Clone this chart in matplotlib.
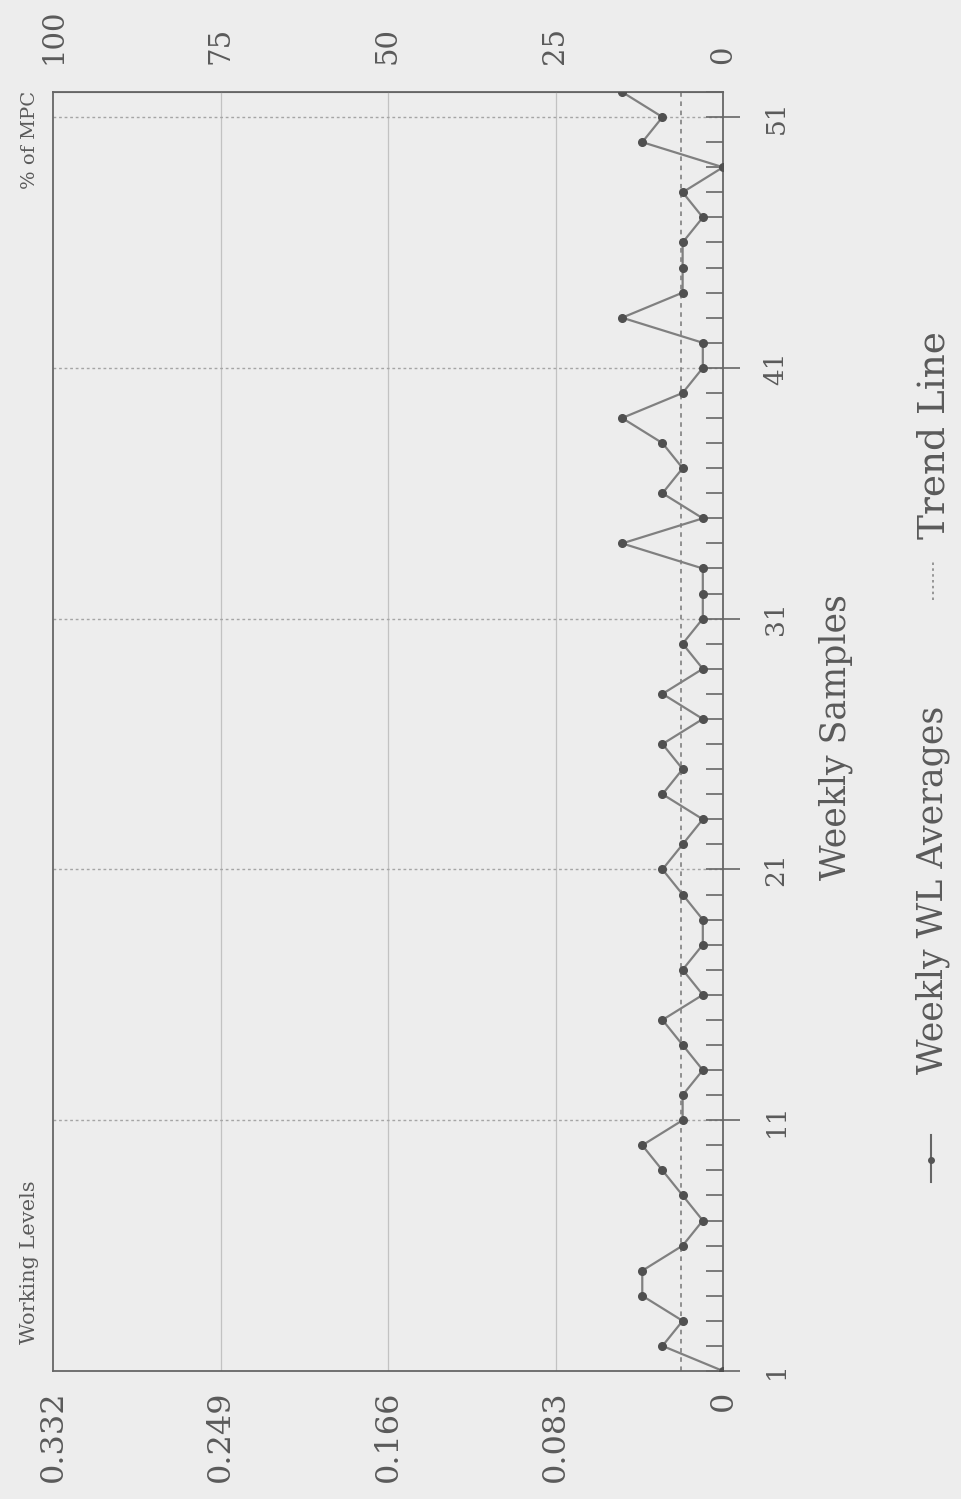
import matplotlib
matplotlib.use("Agg")
import matplotlib.pyplot as plt
from matplotlib.lines import Line2D
from matplotlib.ticker import MultipleLocator

# ---- data ----
weeks = list(range(1, 53))
wl_averages = [0.00, 0.03, 0.02, 0.04, 0.04, 0.02, 0.01, 0.02, 0.03, 0.04,
               0.02, 0.02, 0.01, 0.02, 0.03, 0.01, 0.02, 0.01, 0.01, 0.02,
               0.03, 0.02, 0.01, 0.03, 0.02, 0.03, 0.01, 0.03, 0.01, 0.02,
               0.01, 0.01, 0.01, 0.05, 0.01, 0.03, 0.02, 0.03, 0.05, 0.02,
               0.01, 0.01, 0.05, 0.02, 0.02, 0.02, 0.01, 0.02, 0.00, 0.04,
               0.03, 0.05]
trend_level = 0.021
wl_ticks = [0.332, 0.249, 0.166, 0.083, 0]
wl_tick_labels = ["0.332", "0.249", "0.166", "0.083", "0"]
mpc_ticks = [100, 75, 50, 25, 0]
week_ticks = [1, 11, 21, 31, 41, 51]

plt.rcParams['font.family'] = ['DejaVu Serif']
txt = '#5a5a5a'
bg = '#ededed'

fig = plt.figure(figsize=(9.62, 14.99), dpi=100, facecolor=bg)
W, H = 962, 1499
ax = fig.add_axes([53 / W, 128 / H, 670 / W, 1279 / H])
ax.set_facecolor(bg)

ax.plot(wl_averages, weeks, '-', color='#808080', lw=1.6, zorder=3)
ax.plot(wl_averages, weeks, 'o', color='#505050', ms=5.5, zorder=4)
ax.axvline(trend_level, color='#777777', lw=1.1, ls=(0, (3, 3)), zorder=2)

ax.set_xlim(0.332, 0)
ax.set_ylim(1, 52)

# grid
for v in wl_ticks[1:-1]:
    ax.axvline(v, color='#c2c2c2', lw=0.9, zorder=1)
for wk in week_ticks[1:]:
    ax.axhline(wk, color='#a5a5a5', lw=1.0, ls=(0, (2, 2)), zorder=1)

for s in ax.spines.values():
    s.set_color('#666666')
    s.set_linewidth(1.3)

ax.set_xticks(wl_ticks)
ax.set_xticklabels(wl_tick_labels, rotation=90, fontsize=23, color=txt)
ax.tick_params(axis='x', which='both', length=0, pad=14)

ax.yaxis.tick_right()
ax.set_yticks(week_ticks)
ax.set_yticklabels([str(w) for w in week_ticks], rotation=90, fontsize=19,
                   color=txt, va='center')
ax.yaxis.set_minor_locator(MultipleLocator(1))
ax.tick_params(axis='y', which='minor', direction='in', length=12,
               width=1.2, color='#666666')
ax.tick_params(axis='y', which='major', direction='inout', length=24,
               width=1.2, color='#666666', pad=17)

sec = ax.secondary_xaxis('top', functions=(lambda x: x / 0.332 * 100,
                                           lambda p: p * 0.332 / 100))
sec.set_xticks(mpc_ticks)
sec.set_xticklabels([str(m) for m in mpc_ticks], rotation=90, fontsize=21,
                    color=txt)
sec.tick_params(length=0, pad=20)
sec.spines['top'].set_color('#666666')

# axis titles
fig.text(30 / W, 1 - 1262 / H, 'Working Levels', rotation=90, fontsize=15,
         color=txt, ha='center', va='center')
fig.text(30 / W, 1 - 140 / H, '% of MPC', rotation=90, fontsize=14,
         color=txt, ha='center', va='center')
fig.text(836 / W, 1 - 737 / H, 'Weekly Samples', rotation=90, fontsize=25,
         color=txt, ha='center', va='center')

# legend
fig.add_artist(Line2D([931 / W, 931 / W], [1 - 1182 / H, 1 - 1135 / H],
                      transform=fig.transFigure, color='#666666', lw=1.5))
fig.add_artist(Line2D([931 / W], [1 - 1160 / H], transform=fig.transFigure,
                      marker='o', ms=4, color='#555555'))
fig.text(933 / W, 1 - 890 / H, 'Weekly WL Averages', rotation=90, fontsize=25,
         color=txt, ha='center', va='center')
fig.add_artist(Line2D([933 / W, 933 / W], [1 - 600 / H, 1 - 560 / H],
                      transform=fig.transFigure, color='#888888', lw=1.2,
                      ls=(0, (1.5, 2))))
fig.text(935 / W, 1 - 435 / H, 'Trend Line', rotation=90, fontsize=27,
         color=txt, ha='center', va='center')

fig.savefig('out.png', dpi=100, facecolor=bg)
